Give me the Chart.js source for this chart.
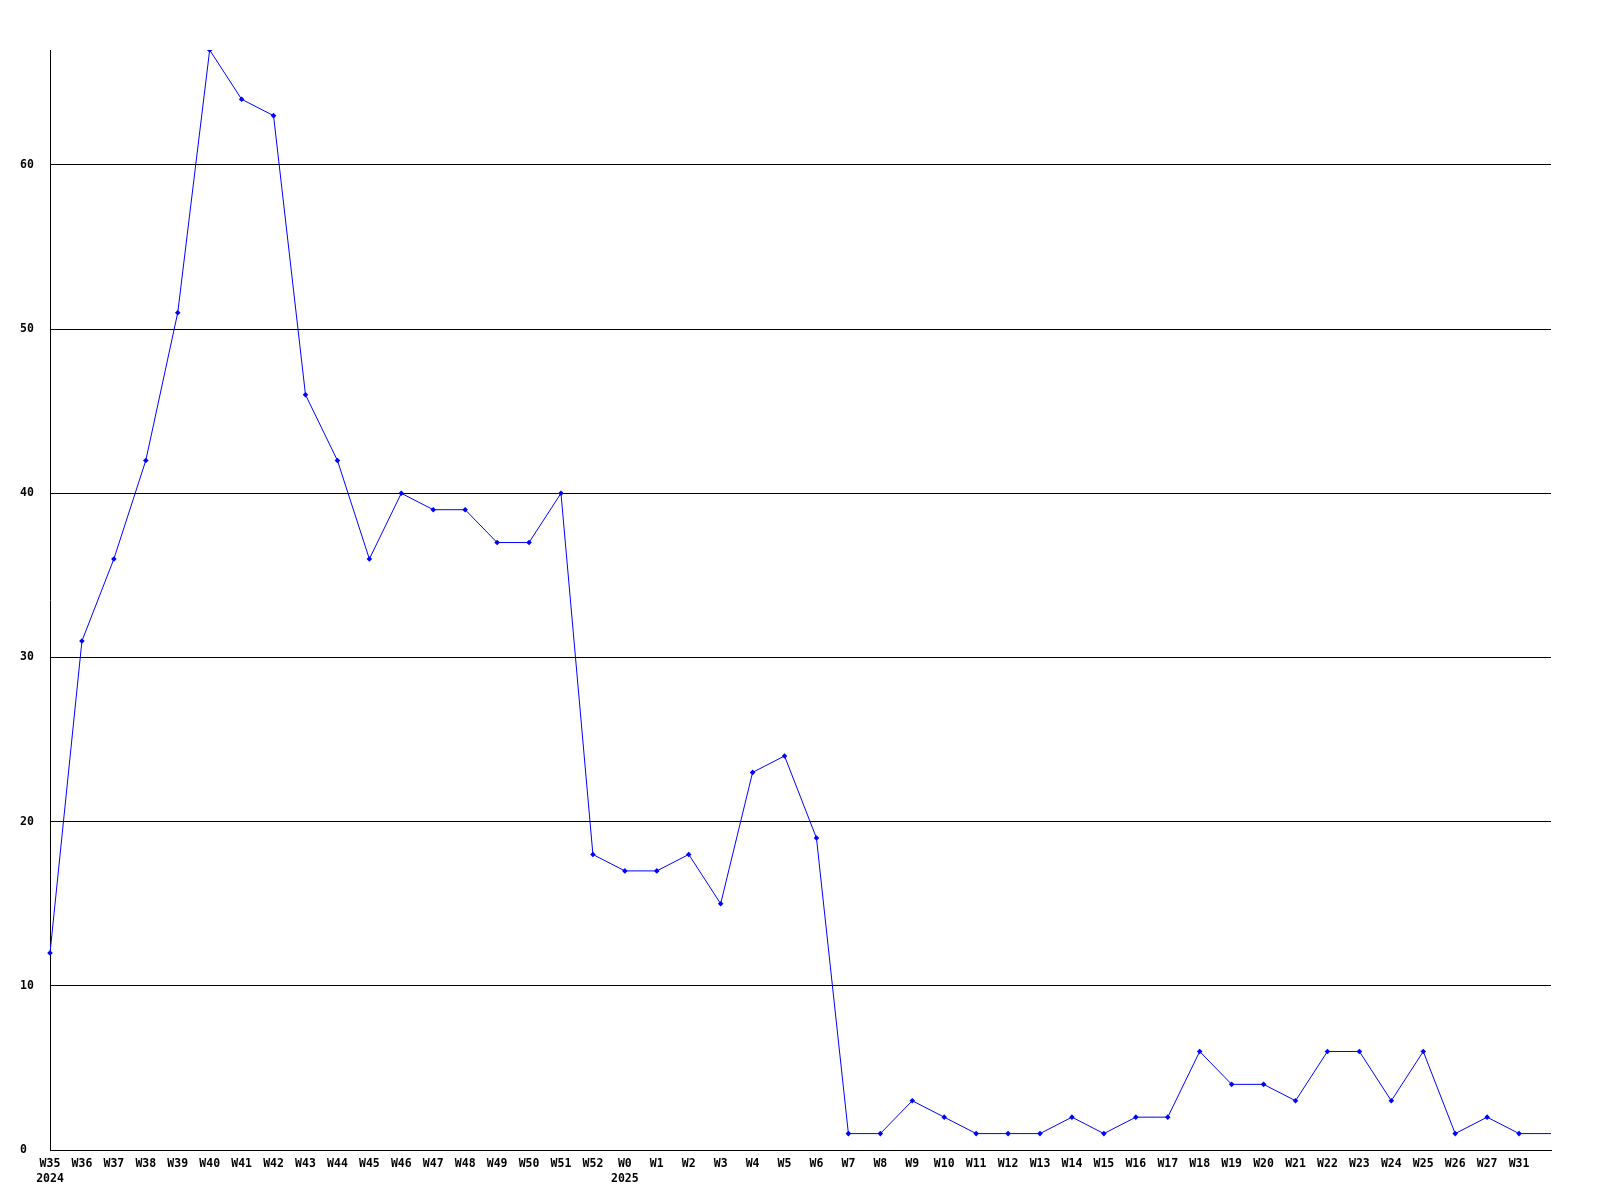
<!DOCTYPE html>
<html>
<head>
<meta charset="utf-8">
<script src="https://cdn.jsdelivr.net/npm/chart.js@4/dist/chart.umd.min.js"></script>
<style>
    body { margin: 0; background: #fff; }
</style>
</head>
<body>
<canvas id="chart" width="1600" height="1200"></canvas>
<script>
// week labels, year shown under first week of each year
var weeks = ["W35", "W36", "W37", "W38", "W39", "W40", "W41", "W42", "W43", "W44",
    "W45", "W46", "W47", "W48", "W49", "W50", "W51", "W52", "W0", "W1",
    "W2", "W3", "W4", "W5", "W6", "W7", "W8", "W9", "W10", "W11",
    "W12", "W13", "W14", "W15", "W16", "W17", "W18", "W19", "W20", "W21",
    "W22", "W23", "W24", "W25", "W26", "W27", "W31", ""];
var years = { "W35": "2024", "W0": "2025" };
var counts = [12, 31, 36, 42, 51, 67, 64, 63, 46, 42,
    36, 40, 39, 39, 37, 37, 40, 18, 17, 17,
    18, 15, 23, 24, 19, 1, 1, 3, 2, 1,
    1, 1, 2, 1, 2, 2, 6, 4, 4, 3,
    6, 6, 3, 6, 1, 2, 1, 1];
var yMax = 67;
var yStep = 10;

var labels = weeks.map(function (w) {
    return years[w] ? [w, years[w]] : w;
});

var font = { family: "'DejaVu Sans Mono', monospace", size: 11.5, weight: "bold", lineHeight: 1.35 };

var ctx = document.getElementById("chart").getContext("2d");
var myChart = new Chart(ctx, {
    type: "line",
    data: {
        labels: labels,
        datasets: [
            {
                data: counts,
                borderColor: "#0000ff",
                backgroundColor: "#0000ff",
                borderWidth: 1,
                tension: 0,
                pointStyle: "rectRot",
                pointRadius: counts.map(function (v, i) { return weeks[i] === "" ? 0 : 2.8; }),
                pointBorderWidth: 0,
            },
        ],
    },
    options: {
        responsive: false,
        animation: false,
        layout: { padding: { left: 20, top: 50, right: 49, bottom: 0 } },
        plugins: {
            legend: { display: false },
            tooltip: { enabled: false },
        },
        scales: {
            x: {
                offset: false,
                grid: { display: false, drawTicks: false },
                border: { display: true, color: "#000", width: 1 },
                ticks: {
                    autoSkip: false,
                    maxRotation: 0,
                    minRotation: 0,
                    padding: 6,
                    color: "#000",
                    font: font,
                },
                afterFit: function (scale) { scale.height = 50; },
            },
            y: {
                min: 0,
                max: yMax,
                grid: { color: "#000", lineWidth: 1, drawTicks: false },
                border: { display: true, color: "#000", width: 1 },
                ticks: {
                    stepSize: yStep,
                    crossAlign: "far",
                    color: "#000",
                    font: font,
                },
                afterBuildTicks: function (scale) {
                    scale.ticks = scale.ticks.filter(function (t) { return t.value % yStep === 0; });
                },
                afterFit: function (scale) { scale.width = 30; },
            },
        },
    },
});
</script>
</body>
</html>
